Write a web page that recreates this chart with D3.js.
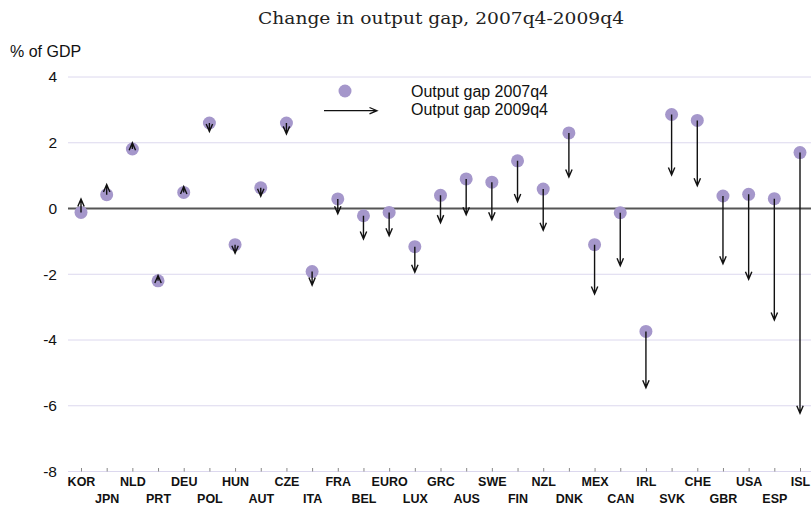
<!DOCTYPE html>
<html><head><meta charset="utf-8">
<script src="https://cdn.jsdelivr.net/npm/d3@7"></script>
<style>body{margin:0;background:#fff}svg{display:block}</style>
</head><body>
<script>
const countries = ["KOR","JPN","NLD","PRT","DEU","POL","HUN","AUT","CZE","ITA","FRA","BEL","EURO","LUX","GRC","AUS","SWE","FIN","NZL","DNK","MEX","CAN","IRL","SVK","CHE","GBR","USA","ESP","ISL"];
const gap2007 = [-0.12,0.42,1.81,-2.2,0.49,2.6,-1.1,0.63,2.6,-1.92,0.29,-0.22,-0.12,-1.16,0.4,0.9,0.8,1.45,0.59,2.3,-1.1,-0.13,-3.74,2.86,2.68,0.38,0.43,0.30,1.7];
const gap2009 = [0.29,0.73,2.0,-2.04,0.67,2.34,-1.36,0.37,2.27,-2.33,-0.16,-0.93,-0.83,-1.94,-0.43,-0.19,-0.34,0.21,-0.66,0.96,-2.6,-1.74,-5.45,1.02,0.69,-1.68,-2.15,-3.39,-6.23];
const yTicks = [-8,-6,-4,-2,0,2,4];
const legendLabels = ["Output gap 2007q4","Output gap 2009q4"];
const titleText = "Change in output gap, 2007q4-2009q4";
const yUnit = "% of GDP";

const W = 811, H = 505;
const svg = d3.select("body").append("svg").attr("width", W).attr("height", H);
const x = d3.scalePoint().domain(countries).range([81, 800]);
const y = d3.scaleLinear().domain([-8, 4]).range([471.5, 77]);
const left = 68, right = 811;
const purple = "#a597cb";
const sans = "'Liberation Sans', Arial, Helvetica, sans-serif";

// title
svg.append("text").attr("x", 441).attr("y", 24).attr("text-anchor", "middle")
  .attr("font-family", "'DejaVu Serif', 'Liberation Serif', serif").attr("font-size", 16.5)
  .attr("textLength", 366).attr("lengthAdjust", "spacingAndGlyphs")
  .attr("fill", "#222").text(titleText);

svg.append("text").attr("x", 10).attr("y", 57).attr("font-family", sans)
  .attr("font-size", 16).attr("fill", "#111").text(yUnit);

// grid
svg.append("g").selectAll("line").data(yTicks.filter(d => d !== 0)).join("line")
  .attr("x1", left).attr("x2", right).attr("y1", d => y(d)).attr("y2", d => y(d))
  .attr("stroke", "#dcd8ee").attr("stroke-width", 1);

// y axis labels
const yAxis = d3.axisLeft(y).tickValues(yTicks).tickSize(0).tickPadding(0).tickFormat(d => String(d));
const gy = svg.append("g").attr("transform", `translate(${left - 11},0)`).call(yAxis);
gy.select(".domain").remove();
gy.selectAll("text").attr("font-family", sans).attr("font-size", 15.5).attr("fill", "#111");

// bottom ticks + labels
const xAxis = d3.axisBottom(x).tickSize(0).tickPadding(0);
const gx = svg.append("g").attr("transform", `translate(0,${y(-8)})`).call(xAxis);
gx.select(".domain").remove();
gx.selectAll(".tick line").attr("y1", -3.5).attr("y2", 0).attr("stroke", "#888").attr("stroke-width", 1);
gx.selectAll(".tick text").attr("font-family", sans).attr("font-weight", "bold")
  .attr("font-size", 12.5).attr("fill", "#111")
  .attr("dy", null)
  .attr("y", (d, i) => i % 2 === 0 ? 14.5 : 31);

// zero line
svg.append("line").attr("x1", left).attr("x2", right).attr("y1", y(0)).attr("y2", y(0))
  .attr("stroke", "#555").attr("stroke-width", 2);

// circles
svg.append("g").selectAll("circle").data(countries).join("circle")
  .attr("cx", d => x(d)).attr("cy", (d, i) => y(gap2007[i])).attr("r", 6.5).attr("fill", purple);

// arrows
function arrowPath(x0, y0, x1, y1) {
  const ang = Math.atan2(y1 - y0, x1 - x0);
  const len = 7.5, hw = 3.2;
  const bx = x1 - len * Math.cos(ang), by = y1 - len * Math.sin(ang);
  const px = -Math.sin(ang) * hw, py = Math.cos(ang) * hw;
  return `M${x0},${y0}L${x1},${y1}M${bx + px},${by + py}L${x1},${y1}L${bx - px},${by - py}`;
}
svg.append("g").selectAll("path").data(countries).join("path")
  .attr("d", (d, i) => arrowPath(x(d), y(gap2007[i]), x(d), y(gap2009[i])))
  .attr("fill", "none").attr("stroke", "#111").attr("stroke-width", 1.4);

// legend
svg.append("circle").attr("cx", 345).attr("cy", 91).attr("r", 6.5).attr("fill", purple);
svg.append("path").attr("d", arrowPath(324, 110.7, 377, 110.7))
  .attr("fill", "none").attr("stroke", "#111").attr("stroke-width", 1.3);
svg.append("g").selectAll("text").data(legendLabels).join("text")
  .attr("x", 411).attr("y", (d, i) => i === 0 ? 91 : 109).attr("dy", "0.36em")
  .attr("font-family", sans).attr("font-size", 16).attr("fill", "#111").text(d => d);
</script>
</body></html>
